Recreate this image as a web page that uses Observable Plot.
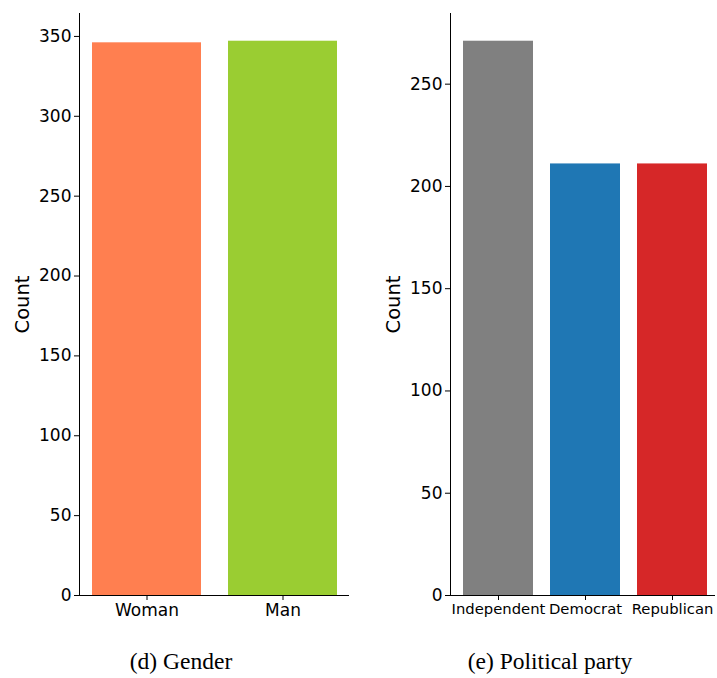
<!DOCTYPE html>
<html><head><meta charset="utf-8">
<script src="https://cdn.jsdelivr.net/npm/d3@7"></script>
<script src="https://cdn.jsdelivr.net/npm/@observablehq/plot@0.6"></script>
<style>
body{margin:0;background:#fff;}
#wrap{position:relative;width:717px;height:678px;overflow:hidden;}
.panel{position:absolute;top:0;}
.cap{position:absolute;font-family:"Liberation Serif","Times New Roman",serif;font-size:23.5px;transform:translateX(-50%);white-space:nowrap;top:648px;line-height:1.15;color:#000;}
</style></head><body>
<div id="wrap">
<div id="p1" class="panel" style="left:0"></div>
<div id="p2" class="panel" style="left:370px"></div>
<div class="cap" style="left:181px">(d) Gender</div>
<div class="cap" style="left:550px">(e) Political party</div>
</div>
<script>
const genderCats = ["Woman", "Man"];
const genderCounts = [346, 347];
const genderColors = ["#ff7f50", "#9acd32"];
const genderTicks = [0, 50, 100, 150, 200, 250, 300, 350];

const partyCats = ["Independent", "Democrat", "Republican"];
const partyCounts = [271, 211, 211];
const partyColors = ["#808080", "#1f77b4", "#d62728"];
const partyTicks = [0, 50, 100, 150, 200, 250];

const yLabel = "Count";

function panel({cats, counts, colors, ticks, width, marginLeft, marginRight, xFont, xRange, padInner}) {
  const data = cats.map((c, i) => ({cat: c, value: counts[i]}));
  const ymax = d3.max(counts) * 1.05;
  const xOpts = {domain: cats, paddingInner: padInner, paddingOuter: 0.09, label: null};
  if (xRange) xOpts.range = xRange;
  return Plot.plot({
    width, height: 640,
    marginTop: 13, marginBottom: 45, marginLeft, marginRight,
    style: {fontFamily: "'DejaVu Sans', sans-serif", fontSize: "17px", color: "#000", background: "transparent", overflow: "visible"},
    x: xOpts,
    y: {domain: [0, ymax], label: null},
    color: {domain: cats, range: colors},
    marks: [
      Plot.barY(data, {x: "cat", y: "value", fill: "cat"}),
      Plot.ruleY([0], {stroke: "#000", strokeWidth: 1}),
      Plot.frame({anchor: "left", stroke: "#000", strokeWidth: 1}),
      Plot.axisX({tickSize: 5, tickPadding: 3, fontSize: xFont, label: null, stroke: "#000", fill: "#000"}),
      Plot.axisY({ticks, tickSize: 5, tickPadding: 3, label: null, fontSize: 17, stroke: "#000", fill: "#000"}),
      Plot.text([yLabel], {frameAnchor: "left", dx: -57, rotate: -90, fontSize: 19.5, textAnchor: "middle", fill: "#000"})
    ]
  });
}

document.getElementById("p1").append(panel({
  cats: genderCats, counts: genderCounts, colors: genderColors, ticks: genderTicks,
  width: 360, marginLeft: 79, marginRight: 11, xFont: 17, padInner: 0.2
}));
document.getElementById("p2").append(panel({
  cats: partyCats, counts: partyCounts, colors: partyColors, ticks: partyTicks,
  width: 347, marginLeft: 80, marginRight: 2, xFont: 14.8, xRange: [84, 346], padInner: 0.19
}));
</script>
</body></html>
